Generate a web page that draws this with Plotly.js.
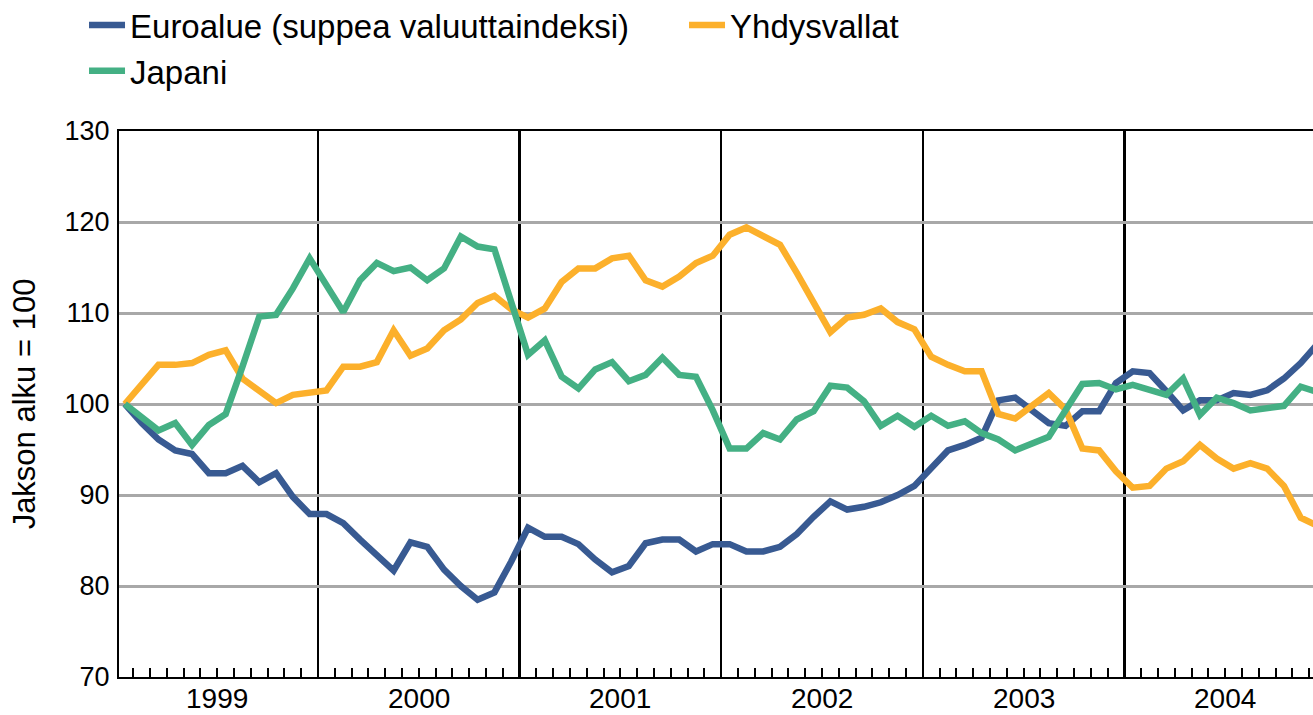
<!DOCTYPE html>
<html>
<head>
<meta charset="utf-8">
<script src="https://cdn.plot.ly/plotly-3.0.1.min.js"></script>
<style>
  html, body { margin: 0; padding: 0; background: #fff; }
  #chart { width: 1313px; height: 715px; }
</style>
</head>
<body>
<div id="chart"></div>
<script>
// Years shown (monthly data, Jan 1999 onward)
const years = [1999, 2000, 2001, 2002, 2003, 2004];
const seriesNames = ["Euroalue (suppea valuuttaindeksi)", "Yhdysvallat", "Japani"];
const yTicks = [70, 80, 90, 100, 110, 120, 130];

const euroalue = [
  100, 97.9, 96.1, 94.9, 94.5, 92.4, 92.4, 93.2, 91.4, 92.4, 89.8, 87.9,
  87.9, 86.9, 85.1, 83.5, 81.7, 84.8, 84.3, 81.8, 80.0, 78.5, 79.3, 82.7,
  86.4, 85.4, 85.4, 84.6, 82.9, 81.5, 82.2, 84.7, 85.1, 85.1, 83.8, 84.6,
  84.6, 83.8, 83.8, 84.3, 85.7, 87.6, 89.3, 88.4, 88.7, 89.2, 90.0, 91.0,
  93.0, 94.9, 95.5, 96.3, 100.4, 100.7, 99.3, 97.9, 97.6, 99.2, 99.2, 102.3,
  103.6, 103.4, 101.4, 99.3, 100.4, 100.4, 101.2, 101.0, 101.5, 102.8, 104.5, 106.6
];
const yhdysvallat = [
  100, 102.1, 104.3, 104.3, 104.5, 105.4, 105.9, 102.8, 101.5, 100.1, 101.0, 101.2,
  101.5, 104.1, 104.1, 104.6, 108.1, 105.3, 106.1, 108.1, 109.3, 111.1, 111.9, 110.4,
  109.5, 110.5, 113.4, 114.9, 114.9, 116.0, 116.3, 113.6, 112.9, 114.0, 115.5, 116.3,
  118.6, 119.4, 118.4, 117.5, 114.4, 111.2, 107.9, 109.5, 109.8, 110.5, 109.0, 108.2,
  105.2, 104.3, 103.6, 103.6, 98.9, 98.4, 99.9, 101.2, 99.4, 95.1, 94.9, 92.6,
  90.8, 91.0, 92.9, 93.7, 95.5, 94.0, 92.9, 93.5, 92.9, 91.0, 87.5, 86.6
];
const japani = [
  100, 98.5, 97.1, 97.9, 95.5, 97.7, 98.9, 104.1, 109.6, 109.8, 112.7, 116.0,
  113.1, 110.1, 113.6, 115.5, 114.6, 115.0, 113.6, 114.9, 118.4, 117.3, 117.0, 111.3,
  105.4, 107.0, 103.0, 101.7, 103.8, 104.6, 102.5, 103.2, 105.1, 103.2, 103.0, 99.3,
  95.1, 95.1, 96.8, 96.1, 98.3, 99.2, 102.0, 101.8, 100.3, 97.6, 98.7, 97.5,
  98.7, 97.6, 98.1, 96.8, 96.1, 94.9, 95.7, 96.4, 99.3, 102.2, 102.3, 101.6,
  102.1, 101.6, 101.0, 102.8, 98.8, 100.7, 100.1, 99.3, 99.5, 99.8, 101.9, 101.3
];

const colors = ["#385A92", "#FCB02B", "#44B084"];
const FONT = "Liberation Sans, Arial, sans-serif";

const monthIdx = euroalue.map((_, i) => i);
const nMonths = years.length * 12;

// month boundaries (minor ticks) and year boundaries (black lines)
const monthBounds = [];
for (let i = 0; i < nMonths - 1; i++) monthBounds.push(i + 0.5);
const yearBounds = years.slice(1).map((_, k) => (k + 1) * 12 - 0.5);
const yearCenters = years.map((_, k) => k * 12 + 5.5);

const traces = [euroalue, yhdysvallat, japani].map((arr, k) => ({
  x: monthIdx,
  y: arr,
  type: "scatter",
  mode: "lines",
  name: seriesNames[k],
  line: { color: colors[k], width: 6.5 }
}));

const annotations = years.map((yr, k) => ({
  x: yearCenters[k], xref: "x",
  y: 0, yref: "paper",
  yanchor: "top", yshift: -4,
  text: String(yr), showarrow: false,
  font: { family: FONT, size: 28, color: "#000" }
}));

const layout = {
  width: 1313, height: 715,
  margin: { l: 119, r: 0, t: 131, b: 38, autoexpand: false },
  paper_bgcolor: "#fff", plot_bgcolor: "#fff",
  font: { family: FONT, color: "#000" },
  showlegend: true,
  legend: {
    orientation: "h",
    xref: "paper", yref: "paper",
    x: -0.0293, y: 1.2454, xanchor: "left", yanchor: "top",
    entrywidth: 549,
    font: { family: FONT, size: 33, color: "#000" },
    itemwidth: 36,
    bgcolor: "rgba(0,0,0,0)"
  },
  xaxis: {
    range: [-0.35, 70.73],
    tickmode: "array",
    tickvals: yearBounds,
    showticklabels: false,
    ticks: "inside", ticklen: 9, tickwidth: 2, tickcolor: "#000",
    showgrid: true, gridcolor: "#000", gridwidth: 2.5,
    zeroline: false,
    showline: true, linecolor: "#000", linewidth: 2, mirror: true,
    minor: {
      tickmode: "array", tickvals: monthBounds,
      ticks: "inside", ticklen: 9, tickwidth: 2, tickcolor: "#000",
      showgrid: false
    }
  },
  yaxis: {
    range: [70, 130],
    tickmode: "array", tickvals: yTicks,
    ticks: "", ticklabelstandoff: 2,
    tickfont: { family: FONT, size: 27, color: "#000" },
    showgrid: true, gridcolor: "#A8A8A8", gridwidth: 3,
    zeroline: false,
    showline: true, linecolor: "#000", linewidth: 2, mirror: false,
    title: { text: "Jakson alku = 100", font: { family: FONT, size: 31, color: "#000" }, standoff: 20 }
  },
  annotations: annotations
};

Plotly.newPlot("chart", traces, layout, { staticPlot: true, displayModeBar: false });
</script>
</body>
</html>
